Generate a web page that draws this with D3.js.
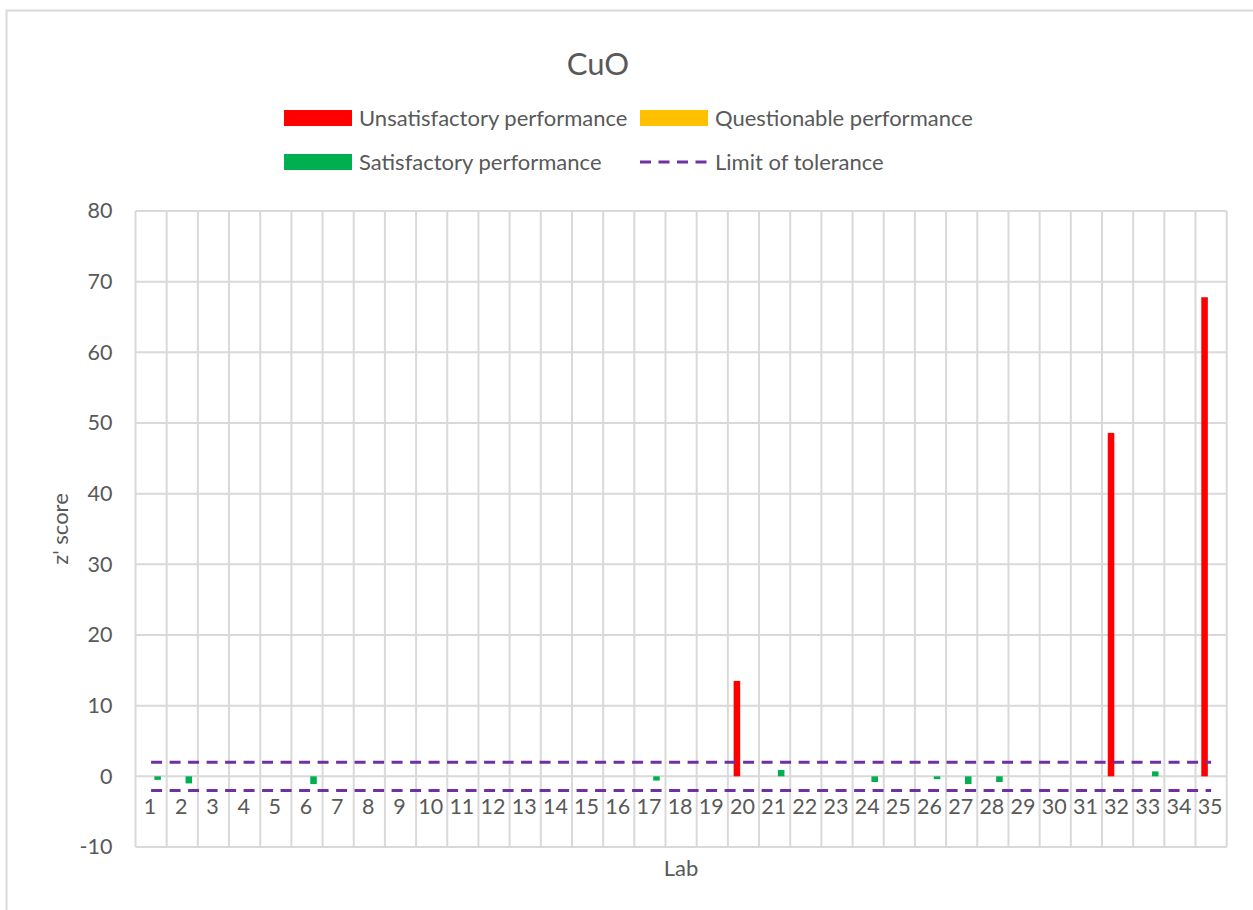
<!DOCTYPE html>
<html>
<head>
<meta charset="utf-8">
<script src="https://cdn.jsdelivr.net/npm/d3@7"></script>
<style>
  body { margin: 0; background: #fff; }
  text { font-family: Lato, "Open Sans", sans-serif; fill: #595959; }
  .grid line { stroke: #d9d9d9; stroke-width: 2; }
  .axis path, .axis line { display: none; }
</style>
</head>
<body>
<div class="container"></div>
<script>
// lab numbers on the x axis
const labs = d3.range(1, 36).map(String);

// z' score for each lab, split by performance class (null = no bar)
const unsatisfactory = [null, null, null, null, null, null, null, null, null, null,
  null, null, null, null, null, null, null, null, null, 13.5,
  null, null, null, null, null, null, null, null, null, null,
  null, 48.6, null, null, 67.8];
const questionable = [null, null, null, null, null, null, null, null, null, null,
  null, null, null, null, null, null, null, null, null, null,
  null, null, null, null, null, null, null, null, null, null,
  null, null, null, null, null];
const satisfactory = [-0.5, -1.0, null, null, null, -1.1, null, null, null, null,
  null, null, null, null, null, null, -0.6, null, null, null,
  0.9, null, null, -0.8, null, -0.4, -1.1, -0.8, null, null,
  null, null, 0.7, null, null];

// limit of tolerance, upper and lower
const tolerance = [2, -2];

const yTicks = [-10, 0, 10, 20, 30, 40, 50, 60, 70, 80];

const seriesNames = ["Unsatisfactory performance", "Questionable performance", "Satisfactory performance"];
const seriesColors = ["#ff0000", "#ffc000", "#00b050"];
const seriesValues = [unsatisfactory, questionable, satisfactory];

const width = 1253;
const height = 910;
const plot = { left: 135.5, right: 1226.7, top: 211, bottom: 847 };

const svg = d3.select(".container")
  .append("svg")
  .attr("width", width)
  .attr("height", height);

// chart frame
svg.append("rect")
  .attr("x", 6.5)
  .attr("y", 10.5)
  .attr("width", 1300)
  .attr("height", 1000)
  .attr("fill", "none")
  .attr("stroke", "#d9d9d9")
  .attr("stroke-width", 2);

const x0 = d3.scaleBand()
  .domain(labs)
  .range([plot.left, plot.right])
  .paddingInner(0.37)
  .paddingOuter(0.185);

const x1 = d3.scaleBand()
  .domain(d3.range(3))
  .range([0, x0.bandwidth()]);

const y = d3.scaleLinear()
  .domain([-10, 80])
  .range([plot.bottom, plot.top]);

// horizontal grid lines
svg.append("g")
  .attr("class", "grid")
  .selectAll("line")
  .data(yTicks)
  .join("line")
  .attr("x1", plot.left)
  .attr("x2", plot.right)
  .attr("y1", d => y(d))
  .attr("y2", d => y(d));

// vertical grid lines at category boundaries
const step = x0.step();
svg.append("g")
  .attr("class", "grid")
  .selectAll("line")
  .data(d3.range(labs.length + 1))
  .join("line")
  .attr("x1", i => plot.left + i * step)
  .attr("x2", i => plot.left + i * step)
  .attr("y1", plot.top)
  .attr("y2", plot.bottom);

// bars
seriesValues.forEach((vals, s) => {
  svg.append("g")
    .attr("fill", seriesColors[s])
    .selectAll("rect")
    .data(labs.map((lab, i) => ({ lab, v: vals[i] })).filter(d => d.v != null))
    .join("rect")
    .attr("x", d => x0(d.lab) + x1(s))
    .attr("width", x1.bandwidth())
    .attr("y", d => y(Math.max(0, d.v)))
    .attr("height", d => Math.abs(y(d.v) - y(0)));
});

// tolerance lines
const line = d3.line()
  .x(d => x0(d) + x0.bandwidth() / 2);
tolerance.forEach(t => {
  svg.append("path")
    .datum(labs)
    .attr("d", line.y(() => y(t)))
    .attr("fill", "none")
    .attr("stroke", "#7030a0")
    .attr("stroke-width", 3)
    .attr("stroke-dasharray", "11,7.5");
});

// y axis
svg.append("g")
  .attr("class", "axis")
  .attr("transform", `translate(${plot.left - 23},0)`)
  .call(d3.axisLeft(y).tickValues(yTicks).tickFormat(d => String(d)).tickSize(0).tickPadding(0))
  .selectAll("text")
  .attr("font-size", 21.5);

// x axis labels sit next to the zero line
svg.append("g")
  .attr("class", "axis")
  .attr("transform", `translate(0,${y(0)})`)
  .call(d3.axisBottom(x0).tickSize(0).tickPadding(0))
  .selectAll("text")
  .attr("x", -1)
  .attr("y", 38)
  .attr("dy", 0)
  .attr("font-size", 21.5);

// title
svg.append("text")
  .attr("x", 598)
  .attr("y", 75)
  .attr("text-anchor", "middle")
  .attr("font-size", 31)
  .text("CuO");

// axis titles
svg.append("text")
  .attr("transform", `translate(68,${(plot.top + plot.bottom) / 2}) rotate(-90)`)
  .attr("text-anchor", "middle")
  .attr("font-size", 22)
  .text("z' score");

svg.append("text")
  .attr("x", (plot.left + plot.right) / 2)
  .attr("y", 876)
  .attr("text-anchor", "middle")
  .attr("font-size", 22)
  .text("Lab");

// legend
const legendItems = [
  { name: seriesNames[0], color: seriesColors[0], x: 284, y: 118 },
  { name: seriesNames[1], color: seriesColors[1], x: 640, y: 118 },
  { name: seriesNames[2], color: seriesColors[2], x: 284, y: 162 },
  { name: "Limit of tolerance", dash: true, x: 640, y: 162 }
];
const legend = svg.append("g");
legendItems.forEach(item => {
  const g = legend.append("g").attr("transform", `translate(${item.x},${item.y})`);
  if (item.dash) {
    g.append("line")
      .attr("x1", 0).attr("x2", 68)
      .attr("stroke", "#7030a0")
      .attr("stroke-width", 3)
      .attr("stroke-dasharray", "11,7.5");
  } else {
    g.append("rect")
      .attr("x", 0).attr("y", -8)
      .attr("width", 68).attr("height", 16)
      .attr("fill", item.color);
  }
  g.append("text")
    .attr("x", 75)
    .attr("dy", "0.35em")
    .attr("font-size", 22)
    .text(item.name);
});
</script>
</body>
</html>
